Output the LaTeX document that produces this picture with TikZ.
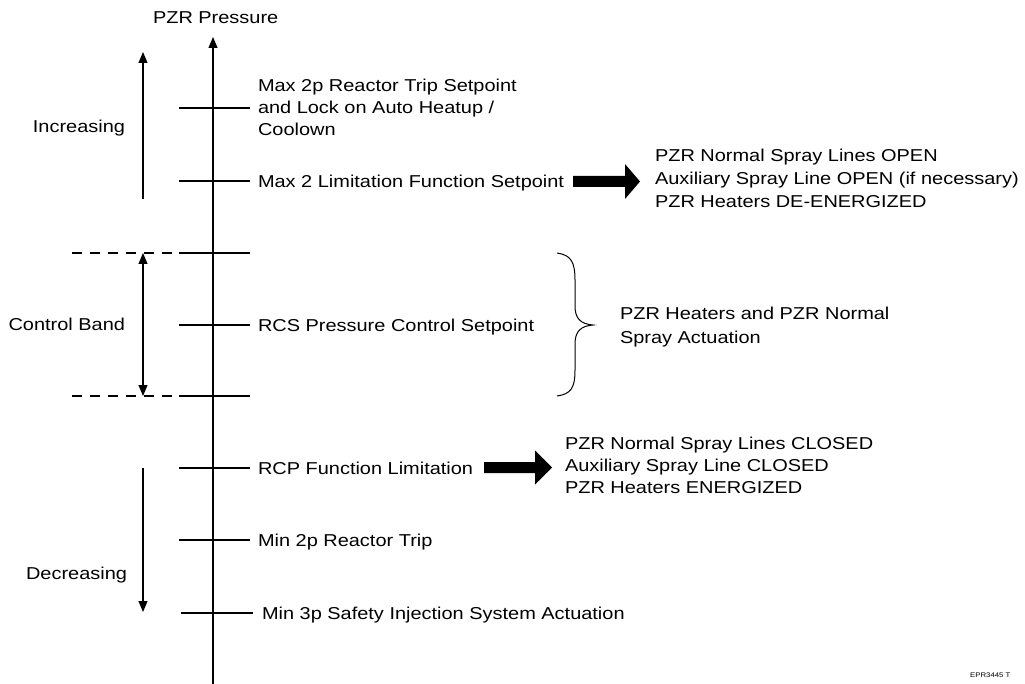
\documentclass[tikz,border=0pt]{standalone}
\usepackage{fontspec}
\setmainfont{Liberation Sans}[FakeStretch=1.16]
\usetikzlibrary{arrows.meta}
\tikzset{
  txt/.style={font=\fontsize{17.2}{22}\selectfont, inner sep=0pt, outer sep=0pt, align=left},
  axis/.style={line width=1.1pt, -{Triangle[length=11pt,width=9pt]}},
  both/.style={line width=1.1pt, {Triangle[length=11pt,width=9pt]}-{Triangle[length=11pt,width=9pt]}},
  tick/.style={line width=1.1pt},
  dashline/.style={line width=1.1pt, dash pattern=on 10pt off 8pt},
  fat/.style={fill=black, draw=none},
}
\begin{document}
\begin{tikzpicture}[x=1pt,y=-1pt]
\useasboundingbox (0,0) rectangle (1025,684);
% main axis
\coordinate (ax0) at (213,684);
\coordinate (ax1) at (213,37);
\draw[axis] (ax0) -- (ax1);
\node[txt, anchor=base west] (title) at (153,23.5) {PZR Pressure};
% ticks
\foreach \n/\y/\a/\b in {t1/108/179/250, t2/181/179/250, t3/253/179/250, t4/325/179/250, t5/396/179/250, t6/468/179/250, t7/540/179/250, t8/613/181/253}{
  \coordinate (\n l) at (\a,\y);
  \coordinate (\n r) at (\b,\y);
  \draw[tick] (\n l) -- (\n r);
}
% dashed band limits
\coordinate (d1) at (72,253);
\coordinate (d2) at (72,396);
\coordinate (d2e) at (198,396);
\draw[dashline] (d1) -- (t3l);
\draw[dashline] (d2) -- (d2e);
% left arrows
\coordinate (inc0) at (143,199);
\coordinate (inc1) at (143,52);
\draw[axis] (inc0) -- (inc1);
\coordinate (cb0) at (143,253);
\coordinate (cb1) at (143,396);
\draw[both] (cb0) -- (cb1);
\coordinate (dec0) at (143,468);
\coordinate (dec1) at (143,612);
\draw[axis] (dec0) -- (dec1);
% left labels
\node[txt, anchor=base east] (inc) at (125,133) {Increasing};
\node[txt, anchor=base east] (cband) at (125,331) {Control Band};
\node[txt, anchor=base east] (dec) at (127,579) {Decreasing};
% setpoint labels
\node[txt, anchor=north west] (max2p) at (258,79.5) {Max 2p Reactor Trip Setpoint\\and Lock on Auto Heatup /\\Coolown};
\node[txt, anchor=base west] (max2) at (258,187.2) {Max 2 Limitation Function Setpoint};
\node[txt, anchor=base west] (rcs) at (258,331.2) {RCS Pressure Control Setpoint};
\node[txt, anchor=base west] (rcp) at (258,474.2) {RCP Function Limitation};
\node[txt, anchor=base west] (min2p) at (258,546.2) {Min 2p Reactor Trip};
\node[txt, anchor=base west] (min3p) at (262,619.2) {Min 3p Safety Injection System Actuation};
% right blocks
\node[txt, anchor=north west, font=\fontsize{17.2}{23}\selectfont] (open) at (655,149.5) {PZR Normal Spray Lines OPEN\\Auxiliary Spray Line OPEN (if necessary)\\PZR Heaters DE-ENERGIZED};
\node[txt, anchor=north west] (closed) at (565,437) {PZR Normal Spray Lines CLOSED\\Auxiliary Spray Line CLOSED\\PZR Heaters ENERGIZED};
\node[txt, anchor=north west, font=\fontsize{17.2}{23.5}\selectfont] (band) at (620,307.5) {PZR Heaters and PZR Normal\\Spray Actuation};
% fat arrows
\coordinate (fa1) at (573,181.5);
\coordinate (fa1t) at (640,181.5);
\fill[fat] (fa1) ++(0,-5.5) -- ++(52,0) -- ++(0,-12) -- (fa1t) -- ++(-15,17.5) -- ++(0,-12) -- ++(-52,0) -- cycle;
\coordinate (fa2) at (484,467.5);
\coordinate (fa2t) at (552,467.5);
\fill[fat] (fa2) ++(0,-5.5) -- ++(51,0) -- ++(0,-11.5) -- (fa2t) -- ++(-17,17) -- ++(0,-11.5) -- ++(-51,0) -- cycle;
% brace
\coordinate (br0) at (557,253);
\coordinate (brm) at (593,325);
\coordinate (br1) at (557,396);
\draw[line width=1pt] (br0) .. controls (571,255) and (575,262) .. (575,280) -- (575,306)
  .. controls (575,319) and (581,324) .. (brm)
  .. controls (581,326) and (575,331) .. (575,344) -- (575,370)
  .. controls (575,388) and (571,394) .. (br1);
% footer
\node[font=\fontsize{6.7}{8}\selectfont, inner sep=0pt, anchor=base west] (ref) at (970,677.5) {EPR3445 T};
\end{tikzpicture}
\end{document}
